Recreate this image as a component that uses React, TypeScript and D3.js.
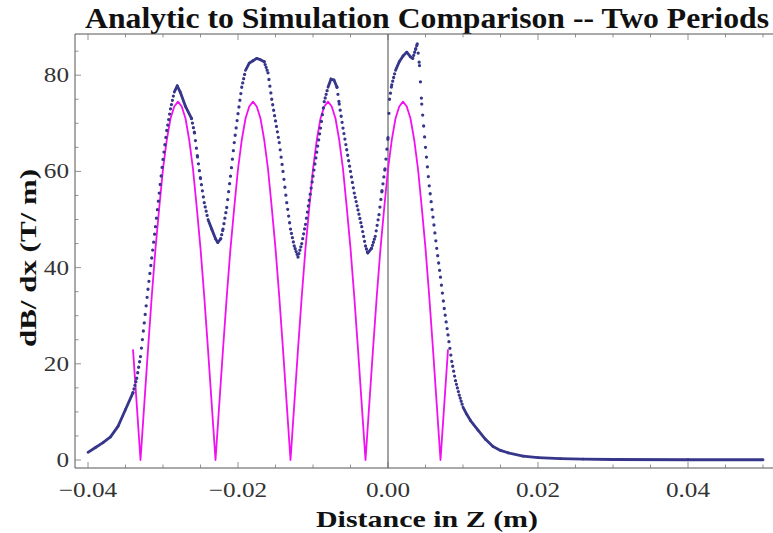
import * as d3 from "d3";

const W = 773, H = 533;
const FRAME = { left: 75, top: 34, right: 773, bottom: 468 };
const FONT = "Liberation Serif, Times New Roman, serif";

const BLUE = "#36368a";
const MAGENTA = "#f010f0";
const AXIS = "#555";

// x axis (distance in z, m)
const Z_TICKS = [-0.04, -0.02, 0, 0.02, 0.04];
const Z_TICK_LABELS = ["\u22120.04", "\u22120.02", "0.00", "0.02", "0.04"];
// y axis (dB/dx, T/m)
const G_TICKS = [0, 20, 40, 60, 80];
const G_TICK_LABELS = ["0", "20", "40", "60", "80"];

// analytic curve, sampled every 0.5 mm starting at -34 mm
const ANALYTIC_START = -0.034;
const ANALYTIC_STEP = 0.0005;
const ANALYTIC = [
  23, 11.5, 0,
  11.5, 23, 34, 44, 52.5, 60.5, 66.5, 71, 73.5, 74.5, 73.5, 71, 66.5, 60.5, 52.5, 44, 34, 23, 11.5, 0,
  11.5, 23, 34, 44, 52.5, 60.5, 66.5, 71, 73.5, 74.5, 73.5, 71, 66.5, 60.5, 52.5, 44, 34, 23, 11.5, 0,
  11.5, 23, 34, 44, 52.5, 60.5, 66.5, 71, 73.5, 74.5, 73.5, 71, 66.5, 60.5, 52.5, 44, 34, 23, 11.5, 0,
  11.5, 23, 34, 44, 52.5, 60.5, 66.5, 71, 73.5, 74.5, 73.5, 71, 66.5, 60.5, 52.5, 44, 34, 23, 11.5, 0,
  11.5, 23,
];

// simulation, [z (m), dB/dx (T/m)]
const SIM: [number, number][] = [
  [-0.04, 1.6], [-0.039, 2.6], [-0.038, 3.6], [-0.037, 4.8], [-0.036, 7.0],
  [-0.035, 10.5], [-0.034, 14.0], [-0.0335, 17.0], [-0.033, 21.5], [-0.0325, 28.5],
  [-0.032, 35.5], [-0.0315, 42.0], [-0.031, 48.5], [-0.0305, 55.5], [-0.03, 62.5],
  [-0.0295, 68.5], [-0.029, 73.0], [-0.0285, 76.5], [-0.0281, 77.8], [-0.0277, 76.5],
  [-0.027, 73.5], [-0.0262, 71.0], [-0.0258, 68.0], [-0.0254, 63.0], [-0.025, 58.5],
  [-0.0245, 53.5], [-0.024, 50.0], [-0.0235, 48.0], [-0.023, 46.0], [-0.0227, 45.2],
  [-0.0223, 46.0], [-0.022, 48.0], [-0.0215, 52.5], [-0.021, 59.0], [-0.0205, 66.0],
  [-0.02, 72.0], [-0.0195, 77.5], [-0.019, 81.0], [-0.0185, 82.5], [-0.018, 83.0],
  [-0.0175, 83.5], [-0.017, 83.2], [-0.0165, 82.8], [-0.016, 80.5], [-0.0155, 75.0],
  [-0.015, 70.5], [-0.0145, 66.0], [-0.014, 60.0], [-0.0135, 53.5], [-0.013, 48.0],
  [-0.0125, 44.5], [-0.012, 42.2], [-0.0115, 45.0], [-0.011, 49.0], [-0.0105, 54.0],
  [-0.01, 59.0], [-0.0095, 64.0], [-0.009, 69.0], [-0.0085, 74.5], [-0.008, 77.5],
  [-0.0076, 79.2], [-0.0072, 79.0], [-0.0068, 77.5], [-0.0065, 74.0], [-0.006, 69.0],
  [-0.0055, 64.5], [-0.005, 60.0], [-0.0045, 55.5], [-0.004, 52.0], [-0.0035, 48.5],
  [-0.003, 44.5], [-0.0027, 43.0], [-0.0022, 44.0], [-0.0017, 46.5], [-0.0012, 51.0],
  [-0.0008, 56.0], [-0.0004, 60.5], [0.0, 67.0], [0.0002, 75.0], [0.0005, 78.0],
  [0.001, 81.0], [0.0015, 82.8], [0.002, 84.0], [0.0025, 84.8], [0.003, 83.8],
  [0.0033, 83.5], [0.0037, 85.5], [0.0039, 86.5], [0.0042, 82.0], [0.0045, 74.0],
  [0.005, 65.0], [0.0055, 57.0], [0.006, 50.5], [0.0065, 44.0], [0.007, 38.0],
  [0.0075, 31.5], [0.008, 26.0], [0.0085, 20.5], [0.009, 16.5], [0.0095, 13.5],
  [0.01, 11.0], [0.0105, 9.5], [0.011, 8.2], [0.012, 6.2], [0.013, 4.3],
  [0.014, 2.8], [0.015, 2.0], [0.016, 1.5], [0.018, 0.8], [0.02, 0.5],
  [0.023, 0.3], [0.026, 0.2], [0.03, 0.1], [0.04, 0.05], [0.05, 0.05],
];

export default function App() {
  const x = d3.scaleLinear().domain([-0.04, 0.04]).range([88, 688]);
  const y = d3.scaleLinear().domain([0, 80]).range([460, 75.2]);

  const zMinor = d3.range(-0.04, 0.0501, 0.005);
  const gMinor = d3.range(0, 86, 5);

  const analyticLine = d3.line<number>()
    .x((_, i) => x(ANALYTIC_START + i * ANALYTIC_STEP))
    .y(d => y(d));

  // simulation points are dense in z: steep parts show as separate dots
  const simSegs = SIM.slice(1).map((p, i) => {
    const a = SIM[i];
    const x1 = x(a[0]), y1 = y(a[1]), x2 = x(p[0]), y2 = y(p[1]);
    const slope = Math.abs((y2 - y1) / (x2 - x1));
    const gap = 0.95 * Math.sqrt(1 + slope * slope);
    return { x1, y1, x2, y2, dotted: gap > 2.8, gap };
  });

  return (
    <div style={{ position: "fixed", left: 0, top: 0, width: W, height: H, background: "#fff" }}>
      <svg width={W} height={H} style={{ display: "block", fontFamily: FONT }}>
        <text x={427} y={28} textAnchor="middle" fontSize={30} fontWeight="bold" fill="#111"
          textLength={684} lengthAdjust="spacingAndGlyphs">
          Analytic to Simulation Comparison -- Two Periods
        </text>

        {/* frame */}
        <g stroke={AXIS} strokeWidth={1} fill="none">
          <line x1={FRAME.left} y1={FRAME.top} x2={FRAME.left} y2={FRAME.bottom} />
          <line x1={FRAME.left} y1={FRAME.bottom} x2={FRAME.right} y2={FRAME.bottom} />
          <line x1={FRAME.left} y1={FRAME.top} x2={FRAME.right} y2={FRAME.top} />
        </g>

        {/* ticks */}
        <g stroke="#777" strokeWidth={0.8}>
          {zMinor.map((z, i) => {
            const major = Z_TICKS.some(t => Math.abs(t - z) < 1e-6);
            const len = major ? 6 : 3.5;
            return (
              <g key={"zt" + i}>
                <line x1={x(z)} x2={x(z)} y1={FRAME.bottom} y2={FRAME.bottom - len} />
                <line x1={x(z)} x2={x(z)} y1={FRAME.top} y2={FRAME.top + len} />
              </g>
            );
          })}
          {gMinor.map((g, i) => {
            const major = g % 20 === 0;
            return (
              <line key={"gt" + i} x1={FRAME.left} x2={FRAME.left + (major ? 6 : 3.5)} y1={y(g)} y2={y(g)} />
            );
          })}
        </g>

        {/* tick labels */}
        <g fill="#333" fontSize={21}>
          {Z_TICKS.map((z, i) => (
            <text key={"zl" + i} transform={`translate(${x(z)},497) scale(1.2,1)`} textAnchor="middle">
              {Z_TICK_LABELS[i]}
            </text>
          ))}
          {G_TICKS.map((g, i) => (
            <text key={"gl" + i} transform={`translate(69,${y(g) + 7}) scale(1.2,1)`} textAnchor="end">
              {G_TICK_LABELS[i]}
            </text>
          ))}
        </g>

        {/* axis titles */}
        <text x={427} y={527} textAnchor="middle" fontSize={24} fontWeight="bold" fill="#111"
          textLength={222} lengthAdjust="spacingAndGlyphs">
          Distance in Z (m)
        </text>
        <text transform="translate(36,258) rotate(-90)" textAnchor="middle" fontSize={24} fontWeight="bold" fill="#111"
          textLength={178} lengthAdjust="spacingAndGlyphs">
          dB/ dx (T/ m)
        </text>

        {/* z = 0 line */}
        <line x1={x(0)} x2={x(0)} y1={FRAME.top} y2={FRAME.bottom} stroke="#666" strokeWidth={1.2} />

        {/* analytic */}
        <path d={analyticLine(ANALYTIC) || ""} fill="none" stroke={MAGENTA} strokeWidth={1.8} strokeLinejoin="round" />

        {/* simulation */}
        <g stroke={BLUE} strokeLinecap="round" fill="none">
          {simSegs.map((s, i) => (
            <line key={"s" + i} x1={s.x1} y1={s.y1} x2={s.x2} y2={s.y2}
              strokeWidth={s.dotted ? 3.3 : 2.8}
              strokeDasharray={s.dotted ? `0 ${s.gap.toFixed(2)}` : undefined} />
          ))}
        </g>
      </svg>
    </div>
  );
}
